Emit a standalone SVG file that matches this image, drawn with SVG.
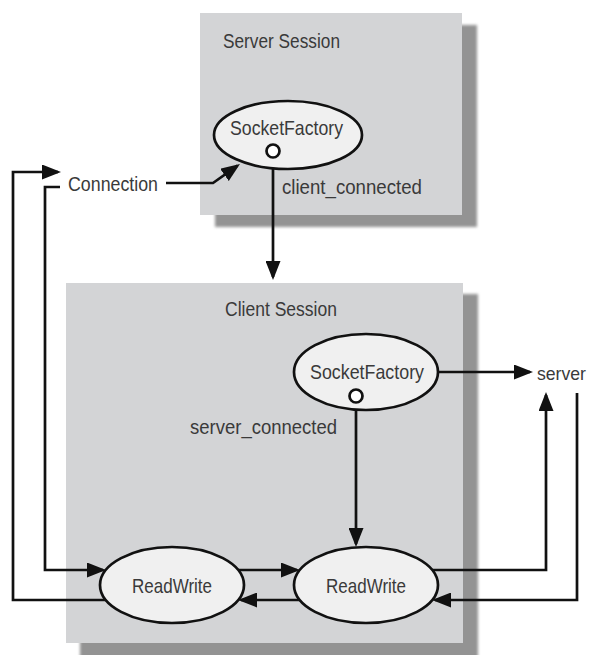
<svg xmlns="http://www.w3.org/2000/svg" width="593" height="655" viewBox="0 0 593 655">
<style>
.box{fill:#d3d4d6}
.shadow{fill:#939393;filter:url(#blur)}
.node{fill:#f0f0f0;stroke:#111;stroke-width:2.7}
.port{fill:#fff;stroke:#111;stroke-width:2.7}
.t{font-family:"Liberation Sans",Arial,sans-serif;font-size:21px;fill:#3a3a3a}
.c{fill:none;stroke:#111;stroke-width:2.7}
</style>
<defs>
<filter id="blur" x="-10%" y="-10%" width="120%" height="120%"><feGaussianBlur stdDeviation="1.5"/></filter>
<marker id="ah" markerWidth="19" markerHeight="15" refX="16" refY="7.5" orient="auto" markerUnits="userSpaceOnUse"><path d="M0,0 L19,7.5 L0,15 z" fill="#111"/></marker>
</defs>
<rect x="0" y="0" width="593" height="655" fill="#fff"/>
<g id="server-session">
<rect class="shadow" x="215" y="25" width="262" height="202"/>
<rect class="box" x="200" y="13" width="262" height="202"/>
<text class="t" x="223" y="48" textLength="117" lengthAdjust="spacingAndGlyphs">Server Session</text>
</g>
<g id="client-session">
<rect class="shadow" x="80" y="294" width="398" height="370"/>
<rect class="box" x="66" y="283" width="397" height="360"/>
<text class="t" x="225" y="316" textLength="112" lengthAdjust="spacingAndGlyphs">Client Session</text>
</g>
<g id="connectors">
<path class="c" d="M166,183 H213 L237.5,165.7" marker-end="url(#ah)"/>
<path class="c" d="M273,158 V277" marker-end="url(#ah)"/>
<path class="c" d="M438,372 H530" marker-end="url(#ah)"/>
<path class="c" d="M356,403 V544" marker-end="url(#ah)"/>
<path class="c" d="M238,570 H297" marker-end="url(#ah)"/>
<path class="c" d="M300,600 H241" marker-end="url(#ah)"/>
<path class="c" d="M60,187 H45 V570 H103" marker-end="url(#ah)"/>
<path class="c" d="M106,600 H13 V172 H58" marker-end="url(#ah)"/>
<path class="c" d="M432,570 H546 V395" marker-end="url(#ah)"/>
<path class="c" d="M577,393 V600 H435" marker-end="url(#ah)"/>
</g>
<g id="server-socketfactory">
<ellipse class="node" cx="288" cy="135" rx="74" ry="34"/>
<text class="t" x="230" y="135" textLength="113" lengthAdjust="spacingAndGlyphs">SocketFactory</text>
<circle class="port" cx="273" cy="151" r="6.5"/>
</g>
<g id="client-socketfactory">
<ellipse class="node" cx="366" cy="372" rx="72" ry="38"/>
<text class="t" x="310" y="379" textLength="114" lengthAdjust="spacingAndGlyphs">SocketFactory</text>
<circle class="port" cx="356" cy="396" r="6.5"/>
</g>
<g id="readwrite-left">
<ellipse class="node" cx="172" cy="585" rx="72" ry="38"/>
<text class="t" x="132" y="593" textLength="80" lengthAdjust="spacingAndGlyphs">ReadWrite</text>
</g>
<g id="readwrite-right">
<ellipse class="node" cx="366" cy="585" rx="72" ry="38"/>
<text class="t" x="326" y="593" textLength="80" lengthAdjust="spacingAndGlyphs">ReadWrite</text>
</g>
<g id="labels">
<text class="t" x="68" y="191" textLength="90" lengthAdjust="spacingAndGlyphs">Connection</text>
<text class="t" x="282" y="194" textLength="140" lengthAdjust="spacingAndGlyphs">client_connected</text>
<text class="t" x="190" y="434" textLength="147" lengthAdjust="spacingAndGlyphs">server_connected</text>
<text class="t" x="537" y="380" style="font-size:19px" textLength="49" lengthAdjust="spacingAndGlyphs">server</text>
</g>
</svg>
